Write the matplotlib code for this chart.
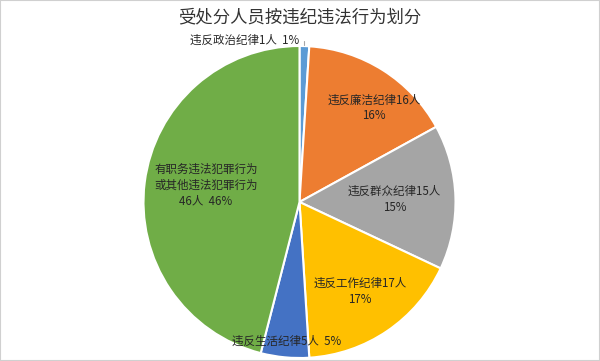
import numpy as np
import matplotlib
matplotlib.use("Agg")
import matplotlib.pyplot as plt
from matplotlib.patches import Rectangle

plt.rcParams['font.family'] = ['Noto Sans CJK SC', 'DejaVu Sans']

title = "受处分人员按违纪违法行为划分"
categories = ["违反政治纪律", "违反廉洁纪律", "违反群众纪律", "违反工作纪律", "违反生活纪律", "有职务违法犯罪行为\n或其他违法犯罪行为"]
counts = [1, 16, 15, 17, 5, 46]
percents = [1, 16, 15, 17, 5, 46]
colors = ["#5B9BD5", "#ED7D31", "#A5A5A5", "#FFC000", "#4472C4", "#70AD47"]

W, H = 600, 361
fig = plt.figure(figsize=(W / 100, H / 100), dpi=100)
ax = fig.add_axes([0, 0, 1, 1])
R = 156.0
cx, cy = 299.5, 202.0

wedges, _ = ax.pie(counts, colors=colors, startangle=90, counterclock=False,
                   radius=1.0, wedgeprops=dict(edgecolor='white', linewidth=1.5))
ax.set_xlim(-cx / R, (W - cx) / R)
ax.set_ylim(-(H - cy) / R, cy / R)
ax.set_aspect('auto')
ax.axis('off')

txt_color = "#262626"
fs = 8.3
# label placement: radius fraction and angle offset per slice
place = [None, (0.77, -6), (0.61, 0), (0.69, 0), (0.90, 0), (0.61, -3)]
for i, w in enumerate(wedges):
    mid = np.deg2rad((w.theta1 + w.theta2) / 2)
    if i == 0:
        continue
    rf, off = place[i]
    ang = mid + np.deg2rad(off)
    x, y = rf * np.cos(ang), rf * np.sin(ang)
    if i == 4:
        s = f"{categories[i]}{counts[i]}人  {percents[i]}%"
    elif i == 5:
        s = f"{categories[i]}\n{counts[i]}人  {percents[i]}%"
    else:
        s = f"{categories[i]}{counts[i]}人\n{percents[i]}%"
    ax.text(x, y, s, ha='center', va='center', fontsize=fs, color=txt_color,
            linespacing=1.3)

# outside label for the small slice
w0 = wedges[0]
mid0 = np.deg2rad((w0.theta1 + w0.theta2) / 2)
px, py = np.cos(mid0), np.sin(mid0)
tx, ty = px - 0.03, py + 0.035
ax.annotate(f"{categories[0]}{counts[0]}人  {percents[0]}%", xy=(px, py + 0.01),
            xytext=(tx, ty), ha='right', va='center', fontsize=fs, color=txt_color,
            arrowprops=dict(arrowstyle='-', color='#A6A6A6', lw=0.8,
                            connectionstyle='angle,angleA=0,angleB=90,rad=0',
                            shrinkA=1, shrinkB=0))

fig.text(0.5, 1 - 17 / H, title, ha='center', va='center', fontsize=12.5, color='#333333')

fig.patches.append(Rectangle((0, 0), 1, 1, transform=fig.transFigure, fill=False,
                             edgecolor='#D0D0D0', linewidth=1.5))

fig.savefig("out.png", dpi=100)
